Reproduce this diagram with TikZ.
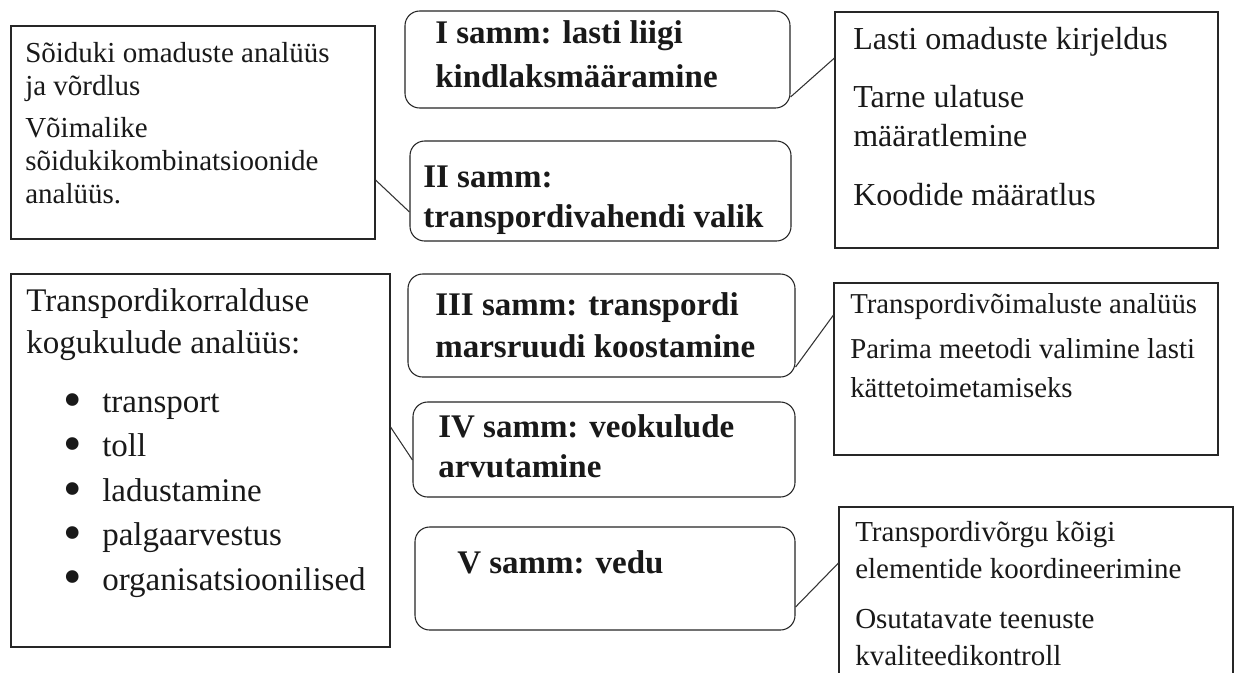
\documentclass[tikz,border=0pt]{standalone}
\usepackage{fontspec}
\setmainfont{Liberation Serif}
\usetikzlibrary{fit}
% enlarged list bullet followed by a fixed indent for the item text
\newcommand{\listitem}{\makebox[29.25pt][l]{\raisebox{-3.6pt}[0pt][0pt]{\scalebox{1.6}{\textbullet}}}}
\begin{document}
\begin{tikzpicture}[x=0.75pt,y=-0.75pt,
  frame/.style={draw=black!85, line width=0.8pt, inner sep=0pt, fill=none},
  stepbox/.style={frame, rounded corners=11pt},
  % multi-line texts are placed by the baseline of their last line
  txt/.style={anchor=base west, inner sep=0pt, align=left, text=black!90},
  steptxt/.style={txt, font=\fontsize{24.75pt}{31.5pt}\selectfont\bfseries},
  link/.style={draw=black!80, line width=0.8pt}]
\useasboundingbox[fill=white] (0,0) rectangle (1235,672);

% step boxes (rounded)
\node[stepbox, fit={(405,11) (790,108)}]  (S1) {};
\node[stepbox, fit={(410,141) (791,241)}] (S2) {};
\node[stepbox, fit={(408,274) (795,377)}] (S3) {};
\node[stepbox, fit={(413,402) (795,497)}] (S4) {};
\node[stepbox, fit={(415,527) (795,630)}] (S5) {};

% note boxes (square)
\node[frame, fit={(11,26) (375,239)}]   (A) {};
\node[frame, fit={(835,12) (1218,248)}] (C) {};
\node[frame, fit={(11,274) (390,647)}]  (D) {};
\node[frame, fit={(834,283) (1218,455)}] (E) {};
\node[frame, fit={(839,507) (1233,700)}] (F) {};

% step texts
\node[steptxt, font=\fontsize{24.75pt}{33pt}\selectfont\bfseries] (t1) at (435,87) {I samm: lasti liigi\\kindlaksmääramine};
\node[steptxt, font=\fontsize{24.75pt}{30pt}\selectfont\bfseries] (t2) at (423,227) {II samm:\\transpordivahendi valik};
\node[steptxt] (t3) at (435,357) {III samm: transpordi\\marsruudi koostamine};
\node[steptxt, font=\fontsize{24.75pt}{30pt}\selectfont\bfseries] (t4) at (438,477) {IV samm: veokulude\\arvutamine};
\node[steptxt] (t5) at (457,573) {V samm: vedu};

% box A texts
\node[txt, font=\fontsize{21.75pt}{24.4pt}\selectfont] (a1) at (25,95) {Sõiduki omaduste analüüs\\ja võrdlus};
\node[txt, font=\fontsize{21.75pt}{24.6pt}\selectfont] (a2) at (25,203) {Võimalike\\sõidukikombinatsioonide\\analüüs.};

% box C texts
\node[txt, font=\fontsize{24pt}{29.25pt}\selectfont] (c1) at (853,49) {Lasti omaduste kirjeldus};
\node[txt, font=\fontsize{24pt}{29.25pt}\selectfont] (c2) at (853,146) {Tarne ulatuse\\määratlemine};
\node[txt, font=\fontsize{24pt}{29.25pt}\selectfont] (c3) at (853,205) {Koodide määratlus};

% box D texts
\node[txt, font=\fontsize{24.75pt}{31.5pt}\selectfont] (d1) at (26,353) {Transpordikorralduse\\kogukulude analüüs:};
\node[txt, font=\fontsize{24.75pt}{33.3pt}\selectfont] (d2) at (63,590) {\listitem transport\\\listitem toll\\\listitem ladustamine\\\listitem palgaarvestus\\\listitem organisatsioonilised};

% box E texts
\node[txt, font=\fontsize{21.6pt}{29.25pt}\selectfont] (e1) at (850,313) {Transpordivõimaluste analüüs};
\node[txt, font=\fontsize{21.6pt}{29.25pt}\selectfont] (e2) at (850,397) {Parima meetodi valimine lasti\\kättetoimetamiseks};

% box F texts
\node[txt, font=\fontsize{21.75pt}{27.4pt}\selectfont] (f1) at (855,578) {Transpordivõrgu kõigi\\elementide koordineerimine};
\node[txt, font=\fontsize{21.75pt}{27.4pt}\selectfont] (f2) at (855,665) {Osutatavate teenuste\\kvaliteedikontroll};

% connectors between notes and steps
\draw[link] (A.east |- 0,180) -- (S2.west |- 0,212);
\draw[link] (S1.east |- 0,97) -- (C.west |- 0,58);
\draw[link] (D.east |- 0,427) -- (S4.west |- 0,460);
\draw[link] (S3.east |- 0,367) -- (E.west |- 0,315);
\draw[link] (S5.east |- 0,607) -- (F.west |- 0,563);
\end{tikzpicture}
\end{document}
